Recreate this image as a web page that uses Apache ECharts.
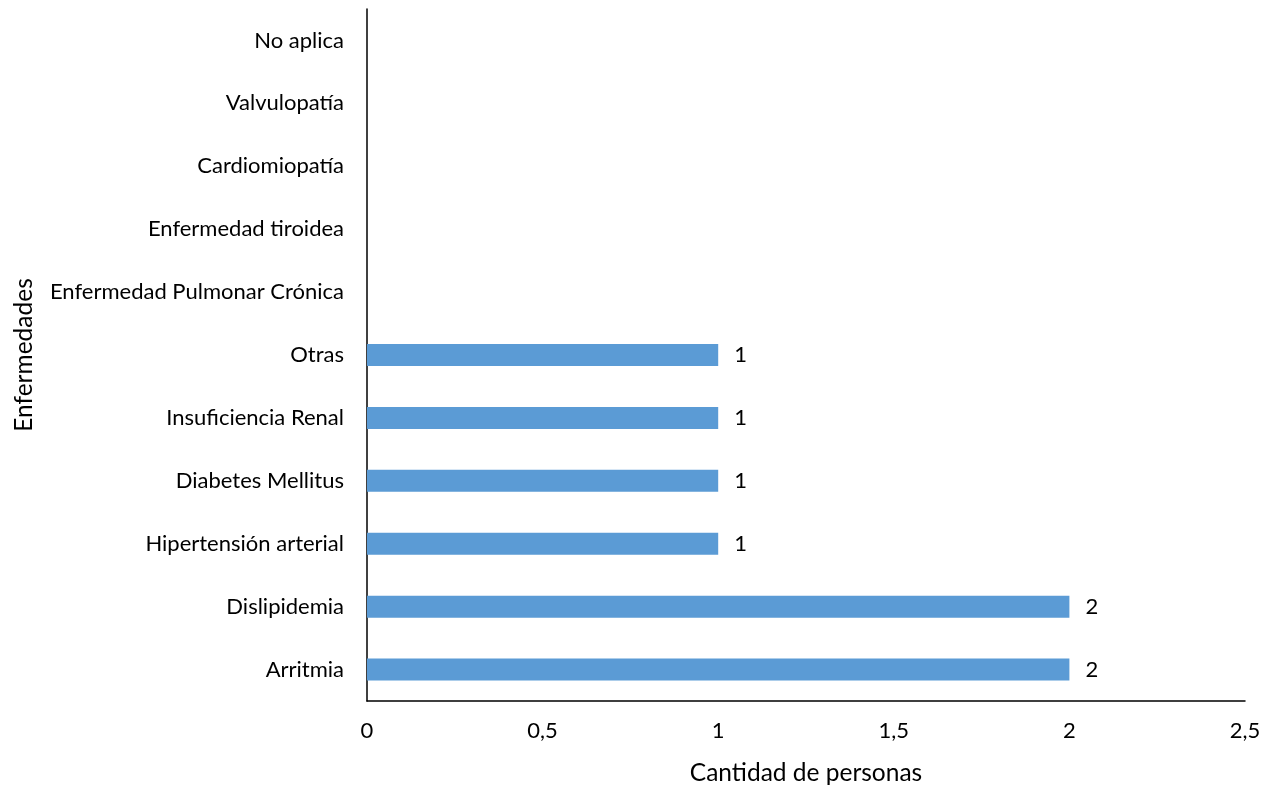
<!DOCTYPE html>
<html>
<head>
<meta charset="utf-8">
<script src="https://cdn.jsdelivr.net/npm/echarts@6/dist/echarts.min.js"></script>
<style>html,body{margin:0;padding:0;background:#fff}#c{width:1277px;height:790px}</style>
</head>
<body>
<div id="c"></div>
<script>
var categories = ["Arritmia","Dislipidemia","Hipertensión arterial","Diabetes Mellitus","Insuficiencia Renal","Otras","Enfermedad Pulmonar Crónica","Enfermedad tiroidea","Cardiomiopatía","Valvulopatía","No aplica"];
var values = [2,2,1,1,1,1,null,null,null,null,null];
var xTicks = ["0","0,5","1","1,5","2","2,5"];
var FONT = "Lato, 'Open Sans', sans-serif";
var chart = echarts.init(document.getElementById('c'));
chart.setOption({
  animation: false,
  grid: {left: 367, right: 32, top: 9, bottom: 89, outerBoundsMode: 'none', containLabel: false},
  xAxis: {
    type: 'value', min: 0, max: 2.5, interval: 0.5,
    name: 'Cantidad de personas', nameLocation: 'middle', nameGap: 60,
    nameTextStyle: {color: '#000', fontSize: 24.5, fontFamily: FONT},
    axisLine: {show: true, lineStyle: {color: '#000', width: 1.5}},
    axisTick: {show: false},
    splitLine: {show: false},
    axisLabel: {color: '#000', fontSize: 22, fontFamily: FONT, margin: 19,
      formatter: function(v){ return xTicks[Math.round(v/0.5)]; }}
  },
  yAxis: {
    type: 'category', data: categories,
    name: 'Enfermedades', nameLocation: 'middle', nameGap: 330, nameRotate: 90,
    nameTextStyle: {color: '#000', fontSize: 24.5, fontFamily: FONT},
    axisLine: {show: true, lineStyle: {color: '#000', width: 1.5}},
    axisTick: {show: false},
    axisLabel: {color: '#000', fontSize: 22, fontFamily: FONT, margin: 23}
  },
  series: [{
    type: 'bar', data: values, barWidth: 22,
    itemStyle: {color: '#5B9BD5'},
    label: {show: true, position: 'right', distance: 16, color: '#000', fontSize: 22, fontFamily: FONT}
  }]
});
</script>
</body>
</html>
